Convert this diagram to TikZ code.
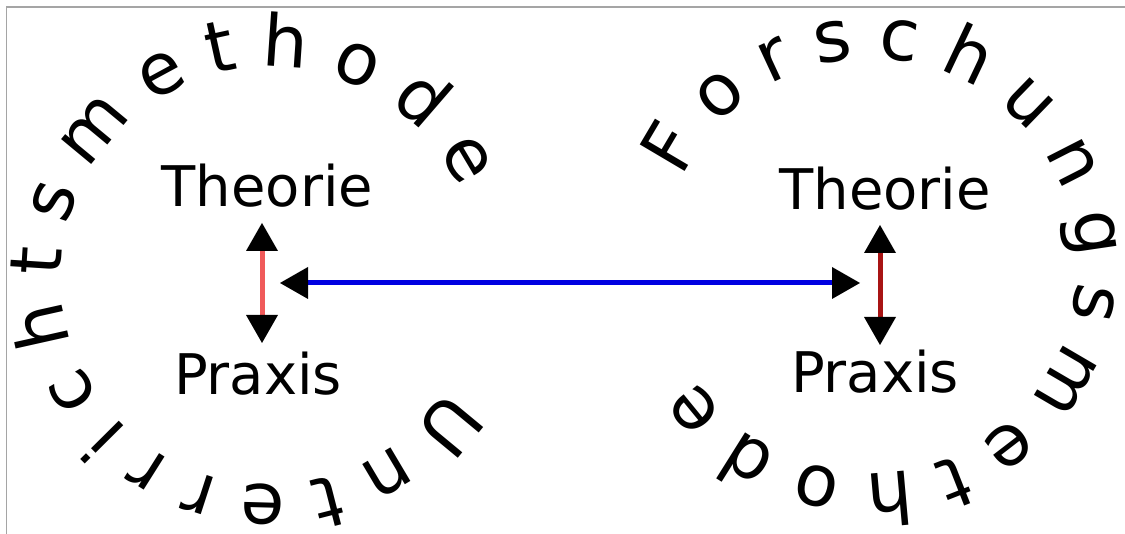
\documentclass[tikz,border=0pt]{standalone}
\usepackage{fontspec}
\setmainfont{DejaVu Sans}
\newfontfamily\arcfont{DejaVu Sans}
\usetikzlibrary{decorations.text,arrows.meta}
\definecolor{lightred}{RGB}{240,90,90}
\definecolor{darkred}{RGB}{168,20,20}
\definecolor{arrowblue}{RGB}{0,0,225}
\definecolor{framegray}{RGB}{165,165,165}
\tikzset{
  labeltext/.style={font=\fontsize{56}{60}\selectfont, inner sep=0pt, anchor=base},
  twoway/.style={<->, line width=5pt},
  arctext/.style={decorate, decoration={text along path, text={|\arcfont\fontsize{71.5}{80}\selectfont|#1}}}
}
\begin{document}
\begin{tikzpicture}[x=1pt,y=1pt,>={Triangle[length=28pt,width=32pt,color=black,line width=0pt]}]
\useasboundingbox (0,0) rectangle (1125,534);
\draw[framegray, line width=1.5pt] (6.5,0) -- (6.5,527) -- (1125,527);

% circular texts
\path[arctext={U n t e r r i c h t s m e t h o d e}]
  (270,258) ++(-32.5:209) arc[start angle=-32.5, end angle=-350, radius=209];
\path[arctext={F o r s c h u n g s m e t h o d e}]
  (870,268) ++(155:207.5) arc[start angle=155, end angle=-190, radius=207.5];

% labels
\node[labeltext] (tl) at (267.5,327) {Theorie};
\node[labeltext] (pl) at (258,139) {Praxis};
\node[labeltext] (tr) at (885,324) {Theorie};
\node[labeltext] (pr) at (875,141) {Praxis};

% arrow end points
\coordinate (ltop) at (262,311);
\coordinate (lbot) at (262,191);
\coordinate (rtop) at (880,309);
\coordinate (rbot) at (880,189);
\coordinate (lmid) at (280,251);
\coordinate (rmid) at (860,251);

\draw[twoway, lightred] (ltop) -- (lbot);
\draw[twoway, darkred] (rtop) -- (rbot);
\draw[twoway, arrowblue] (lmid) -- (rmid);
\end{tikzpicture}
\end{document}
